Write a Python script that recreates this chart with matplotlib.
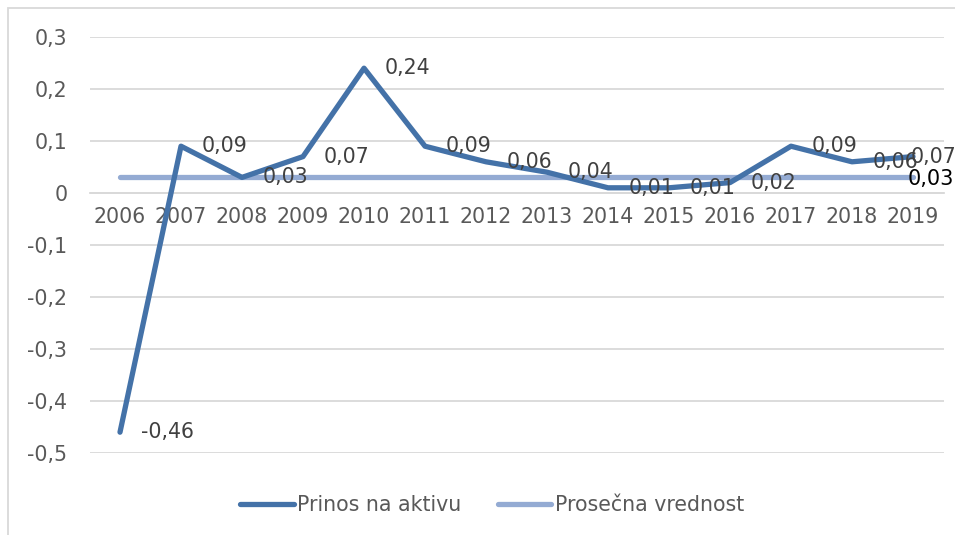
import matplotlib.pyplot as plt
from matplotlib.patches import Rectangle

years = ['2006', '2007', '2008', '2009', '2010', '2011', '2012',
         '2013', '2014', '2015', '2016', '2017', '2018', '2019']
prinos = [-0.46, 0.09, 0.03, 0.07, 0.24, 0.09, 0.06,
          0.04, 0.01, 0.01, 0.02, 0.09, 0.06, 0.07]
prosek = [0.03] * len(years)
yticks = [0.3, 0.2, 0.1, 0, -0.1, -0.2, -0.3, -0.4, -0.5]

dark = '#4472a8'
light = '#94abd3'
grid = '#d9d9d9'
txt = '#595959'

def fmt(v):
    s = ('%.2f' % v).replace('.', ',')
    return s

plt.rcParams['font.family'] = ['DejaVu Sans']
fig = plt.figure(figsize=(9.55, 5.35), dpi=100)
ax = fig.add_axes([89.5 / 955, 1 - 453 / 535, 854 / 955, 416 / 535])

x = list(range(len(years)))
ax.plot(x, prinos, color=dark, lw=3.8, solid_capstyle='round', solid_joinstyle='round',
        label='Prinos na aktivu', zorder=4)
ax.plot(x, prosek, color=light, lw=3.8, solid_capstyle='round', label='Prosečna vrednost', zorder=3)

ax.set_xlim(-0.5, len(years) - 0.5)
ax.set_ylim(-0.5, 0.3)
ax.set_yticks(yticks)
ax.set_yticklabels([('%g' % t).replace('.', ',') for t in yticks])
ax.set_xticks(x)
ax.set_xticklabels(years)
ax.grid(axis='y', color=grid, lw=1.3)
ax.set_axisbelow(True)
for s in ['top', 'right', 'left']:
    ax.spines[s].set_visible(False)
ax.spines['bottom'].set_position(('data', 0))
ax.spines['bottom'].set_color(grid)
ax.spines['bottom'].set_linewidth(1.3)
ax.tick_params(axis='x', length=0, pad=10, labelsize=14.8, labelcolor=txt)
ax.tick_params(axis='y', length=0, pad=16, labelsize=14.8, labelcolor=txt)

# data labels (Excel "right" position)
for i, v in enumerate(prinos):
    dx = 15
    if i == len(prinos) - 1:
        dx = -2
    ax.annotate(fmt(v), (i, v), xytext=(dx, 0), textcoords='offset points',
                ha='left', va='center', fontsize=14.8, color='#404040', zorder=5)
ax.annotate(fmt(prosek[-1]), (len(years) - 1, prosek[-1]), xytext=(-4, -1),
            textcoords='offset points', ha='left', va='center', fontsize=15,
            color='#000000', zorder=5)

fig.add_artist(Rectangle((8 / 955, -0.1), 1.1, 1 - 8 / 535 + 0.1, transform=fig.transFigure,
                         fill=False, edgecolor=grid, lw=1.3))

leg = fig.legend(loc='center', bbox_to_anchor=(492 / 955, 30 / 535), ncol=2, frameon=False,
                 fontsize=14.8, handlelength=2.6, handletextpad=0.15, columnspacing=1.8,
                 labelcolor=txt)

fig.savefig('out.png', dpi=100)
